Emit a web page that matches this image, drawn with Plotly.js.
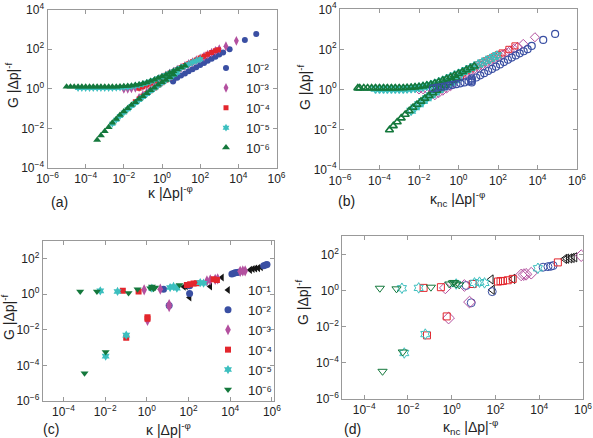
<!DOCTYPE html>
<html><head><meta charset="utf-8">
<script src="https://cdn.plot.ly/plotly-3.0.1.min.js"></script>
<style>html,body{margin:0;padding:0;background:#fff}#chart{width:593px;height:438px}</style>
</head><body><div id="chart"></div>
<script>
// ---------- Legend / series labels ----------
const seriesNamesA = ['10\u207b\u00b2','10\u207b\u00b3','10\u207b\u2074','10\u207b\u2075','10\u207b\u2076'];
const seriesNamesC = ['10\u207b\u00b9','10\u207b\u00b2','10\u207b\u00b3','10\u207b\u2074','10\u207b\u2075','10\u207b\u2076'];

// ---------- Panel (a): G|Δp|^-f vs κ|Δp|^-φ ----------
const aBlueX = [3.8, 3.8, 4, 6.3, 10, 16, 25, 40, 63, 100, 160, 250, 400, 630, 1000, 1600, 3500, 2.2e4, 8.7e4];
const aBlueY = [2.3, 2.7, 2.8, 3.6, 4.6, 5.9, 7.6, 9.6, 12.3, 15.8, 20, 25.7, 32.4, 41.7, 53.7, 67.6, 98, 290, 575];
const aMagUpX = [0.01,0.016,0.025,0.04,0.063,0.1,0.16,0.25,0.4,0.63,1,1.6,2.5,4,6.3,10,16,25,40,63,100,160,250,400,630,1000,2240,7900];
const aMagUpY = [0.98,1.0,1.04,1.1,1.2,1.36,1.6,1.95,2.4,3.0,3.75,4.7,5.9,7.4,9.2,11.5,14.3,17.8,22,27.5,34,42.5,53,66,82,101,140,262];
const aMagLoX = [0.063,0.1,0.16,0.25,0.4,0.63,1];
const aMagLoY = [0.35,0.48,0.66,0.9,1.22,1.65,2.2];
const aRedUpX = [0.063,0.1,0.16,0.25,0.4,0.63,1,1.6,2.5,4,6.3,10,16,25,40,63,100,160,250,400,630,900];
const aRedUpY = [1.05,1.25,1.55,1.95,2.45,3.05,3.85,4.8,6.0,7.5,9.4,11.8,14.8,18.5,23,28.5,35.5,44,55,68,84,92];
const aRedLoX = [0.04,0.063,0.1,0.16,0.25,0.4,0.63,1,1.6,2.5];
const aRedLoY = [0.22,0.3,0.42,0.58,0.8,1.1,1.5,2.0,2.7,3.6];
const aCyanUpX = [4e-5,6.3e-5,1e-4,1.6e-4,2.5e-4,4e-4,6.3e-4,1e-3,1.6e-3,2.5e-3,4e-3,6.3e-3,0.01,0.016,0.025,0.04,0.063,0.1,0.16,0.25,0.4,0.63,1,1.6,2.5,4,6.3,10,16,25,40,63,100];
const aCyanUpY = [1.1,1.1,1.1,1.1,1.1,1.1,1.1,1.1,1.1,1.1,1.12,1.14,1.18,1.23,1.3,1.41,1.55,1.75,2.0,2.35,2.8,3.35,4.1,4.95,6.1,7.6,9.4,11.5,14.2,17.5,21.5,26,31];
const aCyanLoX = [2.5e-3,4e-3,6.3e-3,0.01,0.016,0.025,0.04,0.063,0.1,0.16,0.25,0.4,0.63,1,1.6,2.5,4,6.3];
const aCyanLoY = [0.017,0.027,0.042,0.063,0.093,0.135,0.19,0.27,0.38,0.54,0.76,1.05,1.45,2.0,2.7,3.6,4.9,6.6];
const aGreenUpX = [1e-5,1.6e-5,2.5e-5,4e-5,6.3e-5,1e-4,1.6e-4,2.5e-4,4e-4,6.3e-4,1e-3,1.6e-3,2.5e-3,4e-3,6.3e-3,0.01,0.016,0.025,0.04,0.063,0.1,0.16,0.25,0.4,0.63,1,1.6,2.5,4,6.3,10,16];
const aGreenUpY = [1.25,1.25,1.25,1.25,1.25,1.25,1.25,1.25,1.25,1.25,1.25,1.25,1.27,1.28,1.3,1.33,1.37,1.43,1.53,1.65,1.84,2.09,2.43,2.87,3.44,4.19,5.0,6.2,7.7,9.5,11.8,14.6];
const aGreenLoX = [4e-4,6.3e-4,1e-3,1.6e-3,2.5e-3,4e-3,6.3e-3,0.01,0.016,0.025,0.04,0.063,0.1,0.16,0.25,0.4,0.63,1,1.6,2.5,4];
const aGreenLoY = [2.6e-3,4.4e-3,7.1e-3,0.0115,0.019,0.03,0.047,0.071,0.105,0.15,0.21,0.3,0.42,0.6,0.85,1.12,1.6,2.1,2.8,3.8,5.1];

// ---------- Panel (b): G|Δp|^-f vs κnc|Δp|^-φ ----------
const bBlueX = [0.05,0.079,0.126,0.2,0.32,0.5,0.79,1.26,2,3.2,4.7,4.7,4.7,4.7,7.9,12.6,20,32,50,79,126,200,316,500,794,1260,2000,3160,5100,1.95e4,7.8e4];
const bBlueY = [1.1,1.2,1.3,1.4,1.52,1.65,1.8,2.0,2.2,2.5,2.2,2.6,3.0,3.5,3.9,5.0,6.4,8.2,10.5,13.5,17.5,23,30,38.5,49.5,63,80,102,148,295,590];
const bMagUpX = [0.01,0.016,0.025,0.04,0.063,0.1,0.16,0.25,0.4,0.63,1,1.6,2.5,4,6.3,10,16,25,40,63,100,160,250,400,630,1000,1900,7400];
const bMagUpY = [0.98,1.0,1.04,1.1,1.2,1.35,1.6,1.95,2.45,3.1,3.9,4.9,6.2,7.9,10,12.7,16,20.5,26,33,42,53,67,84,106,133,186,400];
const bMagLoX = [0.063,0.1,0.16,0.25,0.4];
const bMagLoY = [0.5,0.65,0.85,1.1,1.45];
const bRedUpX = [0.1,0.16,0.25,0.4,0.63,1,1.6,2.5,4,6.3,10,16,25,40,63,100,160,355,720];
const bRedUpY = [1.5,1.95,2.5,3.2,4.1,5.2,6.6,8.4,10.6,13.4,16.9,21.3,26.8,33.5,42,53,66,100,148];
const bRedLoX = [0.05,0.079,0.126,0.2,0.32,0.5,0.79,1.26];
const bRedLoY = [0.6,0.8,1.05,1.4,1.85,2.45,3.2,4.1];
const bCyanUpX = [6.3e-5,1e-4,1.6e-4,2.5e-4,4e-4,6.3e-4,1e-3,1.6e-3,2.5e-3,4e-3,6.3e-3,0.01,0.016,0.025,0.04,0.063,0.1,0.16,0.25,0.4,0.63,1,1.6,2.5,4,6.3,10,16,25,40,63,89];
const bCyanUpY = [1.05,1.05,1.05,1.05,1.05,1.05,1.05,1.05,1.08,1.12,1.17,1.24,1.35,1.48,1.66,1.92,2.25,2.7,3.25,4.0,4.9,6.0,7.4,9.2,11.4,14.1,17.5,21.8,27,33.5,42,50];
const bCyanLoX = [4e-3,6.3e-3,0.01,0.016,0.025,0.04,0.063,0.1,0.16,0.25,0.4,0.63,1];
const bCyanLoY = [0.085,0.125,0.18,0.26,0.36,0.5,0.68,0.92,1.22,1.62,2.12,2.8,3.6];
const bGreenUpX = [8e-6,1e-5,1.6e-5,2.5e-5,4e-5,6.3e-5,1e-4,1.6e-4,2.5e-4,4e-4,6.3e-4,1e-3,1.6e-3,2.5e-3,4e-3,6.3e-3,0.01,0.016,0.025,0.04,0.063,0.1,0.16,0.25,0.4,0.63,1,1.6,2.5,4,6.3];
const bGreenUpY = [1.15,1.15,1.15,1.15,1.15,1.15,1.15,1.15,1.15,1.15,1.15,1.16,1.17,1.2,1.23,1.28,1.34,1.44,1.57,1.75,2.0,2.34,2.79,3.35,4.08,4.98,6.14,7.57,9.36,11.6,14.3];
const bGreenLoX = [3.2e-4,5e-4,7.9e-4,1.26e-3,2e-3,3.2e-3,5e-3,7.9e-3,0.0126,0.02,0.032,0.05,0.079,0.126,0.2,0.32,0.5,0.79];
const bGreenLoY = [0.0093,0.0148,0.023,0.036,0.055,0.083,0.122,0.175,0.25,0.35,0.48,0.65,0.88,1.18,1.55,2.05,2.7,3.5];

// ---------- Panel (c) ----------
const cBlackX = [60, 75, 1100, 4000, 9e4, 1.2e5, 1.6e5, 2.2e5, 3e5, 112];
const cBlackY = [2.6, 2.8, 2.7, 8.5, 23, 25.5, 27.5, 29, 32, 0.65];
const cBlueX = [6.3, 112, 1.2e4, 1.5e4, 1.74e4, 2.1e4, 2.5e4, 4e5, 5e5, 5.8e5, 11.7, 112];
const cBlueY = [1.9, 3.0, 13.5, 14.7, 16, 16.6, 17, 39, 43, 46, 0.23, 1.09];
const cMagX = [0.74, 4.4, 760, 1100, 1900, 2500, 3e4, 4e4, 5.2e4, 1.07, 11.7, 11.7];
const cMagY = [1.74, 1.9, 5.5, 6.3, 6.8, 7.2, 19, 20, 20, 0.033, 0.26, 0.2];
const cRedX = [0.07, 0.4, 83, 120, 174, 250, 1580, 2290, 0.102, 1.07, 1.07];
const cRedY = [1.53, 1.41, 3.3, 3.6, 3.9, 4.1, 6.8, 6.3, 3.6e-3, 0.05, 0.041];
const cCyanX = [5.8e-3, 0.039, 1.74, 13, 19, 27.5, 363, 525, 0.0105, 0.102];
const cCyanY = [1.53, 1.41, 2.15, 2.35, 2.7, 2.15, 4.45, 4.1, 3.3e-4, 5e-3];
const cGreenX = [6.3e-4, 4e-3, 0.132, 0.355, 1.45, 1.74, 2.1, 2.5, 37, 1.02e-3, 0.0105];
const cGreenY = [1.41, 1.41, 1.14, 1.9, 2.15, 2.7, 2.0, 2.35, 3.3, 3.6e-5, 5.7e-4];

// ---------- Panel (d) ----------
const dBlackX = [63, 615, 1.45e5, 1.8e5, 2.5e5, 3.2e5, 4.2e5, 71];
const dBlackY = [4.1, 4.4, 56, 58, 60, 64, 69, 1.1];
const dBlueX = [4.6, 1.5e4, 2.5e4, 3.4e4, 4.3e4, 7.8, 71];
const dBlueY = [1.9, 19.5, 21, 22, 24, 0.21, 0.87];
const dMagX = [0.51, 3.8, 1.5e3, 2e3, 2.5e3, 4.3e3, 8.3e5, 0.72, 6.5];
const dMagY = [1.4, 1.9, 7.3, 7.6, 7.9, 9.1, 85, 0.03, 0.23];
const dRedX = [0.052, 0.32, 9.1, 130, 170, 220, 365, 615, 7.1e4, 0.074, 0.59];
const dRedY = [1.4, 1.53, 2.3, 3.15, 3.3, 3.4, 3.7, 4.4, 36, 3.3e-3, 0.037];
const dCyanX = [5.3e-3, 0.031, 1.6, 11, 18.6, 31.6, 8.7e3, 6.8e-3, 0.062];
const dCyanY = [1.34, 1.4, 2.3, 2.65, 2.9, 2.65, 17, 3.5e-4, 3.9e-3];
const dGreenX = [5.2e-4, 3e-3, 0.112, 0.78, 1.12, 1.3, 1.6, 2.2, 6.9e-4, 5.8e-3];
const dGreenY = [1.34, 1.24, 1.53, 2.3, 2.65, 2.8, 2.3, 2.05, 3.4e-5, 4e-4];

// ---------- Tick labels ----------
const tickValsAB = [1e-6,1e-4,1e-2,1,1e2,1e4,1e6];
const tickTextAB = ['10<sup>\u22126</sup>','10<sup>\u22124</sup>','10<sup>\u22122</sup>','10<sup>0</sup>','10<sup>2</sup>','10<sup>4</sup>','10<sup>6</sup>'];
const yTickValsAB = [1e-4,1e-2,1,1e2,1e4];
const yTickTextAB = ['10<sup>\u22124</sup>','10<sup>\u22122</sup>','10<sup>0</sup>','10<sup>2</sup>','10<sup>4</sup>'];
const xTickValsCD = [1e-4,1e-2,1,1e2,1e4,1e6];
const xTickTextCD = ['10<sup>\u22124</sup>','10<sup>\u22122</sup>','10<sup>0</sup>','10<sup>2</sup>','10<sup>4</sup>','10<sup>6</sup>'];
const yTickValsCD = [1e-6,1e-4,1e-2,1,1e2];
const yTickTextCD = ['10<sup>\u22126</sup>','10<sup>\u22124</sup>','10<sup>\u22122</sup>','10<sup>0</sup>','10<sup>2</sup>'];

// ---------- Styling ----------
const COL = {black:'#151515', blue:'#3a4fa3', mag:'#b3509f', red:'#e3262d', cyan:'#3cbfbf', green:'#14783c'};
const W = 593, H = 438;
const px = v => v / W, py = v => 1 - v / H;

function sc(x, y, opts) {
  return Object.assign({type:'scatter', mode:'markers', x:x, y:y, hoverinfo:'skip', cliponaxis:true}, opts);
}
function mk(color, symbol, size, lw) {
  return {color:color, symbol:symbol, size:size, line:{width:symbol.indexOf('open')>=0?(lw||1):0, color:color}};
}

const traces = [
  // (a)
  sc(aBlueX, aBlueY, {xaxis:'x', yaxis:'y', name:seriesNamesA[0], legend:'legend', marker:mk(COL.blue,'circle',6)}),
  sc(aMagUpX.concat(aMagLoX), aMagUpY.concat(aMagLoY), {xaxis:'x', yaxis:'y', name:seriesNamesA[1], legend:'legend', marker:mk(COL.mag,'diamond-tall',7)}),
  sc(aRedUpX.concat(aRedLoX), aRedUpY.concat(aRedLoY), {xaxis:'x', yaxis:'y', name:seriesNamesA[2], legend:'legend', marker:mk(COL.red,'square',5)}),
  sc(aCyanUpX.concat(aCyanLoX), aCyanUpY.concat(aCyanLoY), {xaxis:'x', yaxis:'y', name:seriesNamesA[3], legend:'legend', marker:mk(COL.cyan,'hexagram',6)}),
  sc(aGreenUpX.concat(aGreenLoX), aGreenUpY.concat(aGreenLoY), {xaxis:'x', yaxis:'y', name:seriesNamesA[4], legend:'legend', marker:mk(COL.green,'triangle-up',7)}),
  // (b)
  sc(bMagUpX.concat(bMagLoX), bMagUpY.concat(bMagLoY), {xaxis:'x2', yaxis:'y2', showlegend:false, marker:mk(COL.mag,'diamond-open',7)}),
  sc(bRedUpX.concat(bRedLoX), bRedUpY.concat(bRedLoY), {xaxis:'x2', yaxis:'y2', showlegend:false, marker:mk(COL.red,'square-open',6)}),
  sc(bCyanUpX.concat(bCyanLoX), bCyanUpY.concat(bCyanLoY), {xaxis:'x2', yaxis:'y2', showlegend:false, marker:mk(COL.cyan,'hexagram-open',7,1.3)}),
  sc(bGreenUpX.concat(bGreenLoX), bGreenUpY.concat(bGreenLoY), {xaxis:'x2', yaxis:'y2', showlegend:false, marker:mk(COL.green,'triangle-up-open',7,1.6)}),
  sc(bBlueX, bBlueY, {xaxis:'x2', yaxis:'y2', showlegend:false, marker:mk(COL.blue,'circle-open',7,1.2)}),
  // (c)
  sc(cBlackX, cBlackY, {xaxis:'x3', yaxis:'y3', name:seriesNamesC[0], legend:'legend2', marker:mk(COL.black,'triangle-left',7)}),
  sc(cBlueX, cBlueY, {xaxis:'x3', yaxis:'y3', name:seriesNamesC[1], legend:'legend2', marker:mk(COL.blue,'circle',7)}),
  sc(cMagX, cMagY, {xaxis:'x3', yaxis:'y3', name:seriesNamesC[2], legend:'legend2', marker:mk(COL.mag,'diamond-tall',8)}),
  sc(cRedX, cRedY, {xaxis:'x3', yaxis:'y3', name:seriesNamesC[3], legend:'legend2', marker:mk(COL.red,'square',6)}),
  sc(cCyanX, cCyanY, {xaxis:'x3', yaxis:'y3', name:seriesNamesC[4], legend:'legend2', marker:mk(COL.cyan,'hexagram',7)}),
  sc(cGreenX, cGreenY, {xaxis:'x3', yaxis:'y3', name:seriesNamesC[5], legend:'legend2', marker:mk(COL.green,'triangle-down',7)}),
  // (d)
  sc(dBlackX, dBlackY, {xaxis:'x4', yaxis:'y4', showlegend:false, marker:mk(COL.black,'triangle-left-open',8)}),
  sc(dBlueX, dBlueY, {xaxis:'x4', yaxis:'y4', showlegend:false, marker:mk(COL.blue,'circle-open',8)}),
  sc(dMagX, dMagY, {xaxis:'x4', yaxis:'y4', showlegend:false, marker:mk(COL.mag,'diamond-open',9)}),
  sc(dRedX, dRedY, {xaxis:'x4', yaxis:'y4', showlegend:false, marker:mk(COL.red,'square-open',7)}),
  sc(dCyanX, dCyanY, {xaxis:'x4', yaxis:'y4', showlegend:false, marker:mk(COL.cyan,'hexagram-open',8)}),
  sc(dGreenX, dGreenY, {xaxis:'x4', yaxis:'y4', showlegend:false, marker:mk(COL.green,'triangle-down-open',8)})
];

const FONT = 'Liberation Sans, Arial, Helvetica, sans-serif';
function ax(domain, range, tv, tt, anchor) {
  return {type:'log', domain:domain, range:range, anchor:anchor, tickmode:'array', tickvals:tv, ticktext:tt,
    ticks:'inside', ticklen:4, tickwidth:1, tickcolor:'#999', showline:true, linecolor:'#999', linewidth:1,
    mirror:'ticks', showgrid:false, zeroline:false, tickfont:{size:12, color:'#222', family:FONT}, fixedrange:true};
}

const layout = {
  width:W, height:H, margin:{l:0,r:0,t:0,b:0}, paper_bgcolor:'#fff', plot_bgcolor:'#fff',
  font:{family:FONT, size:12, color:'#222'},
  xaxis:  ax([px(47.5), px(276.5)], [-6,6], tickValsAB, tickTextAB, 'y'),
  yaxis:  ax([py(168), py(9.5)], [-4,4], yTickValsAB, yTickTextAB, 'x'),
  xaxis2: ax([px(340), px(577)], [-6,6], tickValsAB, tickTextAB, 'y2'),
  yaxis2: ax([py(169.3), py(9.3)], [-4,4], yTickValsAB, yTickTextAB, 'x2'),
  xaxis3: ax([px(42.7), px(274)], [-5,6.1], xTickValsCD, xTickTextCD, 'y3'),
  yaxis3: ax([py(401), py(240.7)], [-6,3], yTickValsCD, yTickTextCD, 'x3'),
  xaxis4: ax([px(342.3), px(583)], [-5,6], xTickValsCD, xTickTextCD, 'y4'),
  yaxis4: ax([py(399), py(236.3)], [-6,3], yTickValsCD, yTickTextCD, 'x4'),
  legend: {x:px(206), y:py(53), xanchor:'left', yanchor:'top', bgcolor:'rgba(0,0,0,0)', borderwidth:0,
    font:{size:13, family:FONT, color:'#222'}, itemwidth:30, tracegroupgap:0},
  legend2: {x:px(208), y:py(275), xanchor:'left', yanchor:'top', bgcolor:'rgba(0,0,0,0)', borderwidth:0,
    font:{size:13, family:FONT, color:'#222'}, itemwidth:30, tracegroupgap:0},
  showlegend:true,
  annotations: [
    {text:'G |\u0394p|<sup>-f</sup>', x:px(12), y:py(86), textangle:-90},
    {text:'\u03ba |\u0394p|<sup>-\u03c6</sup>', x:px(170), y:py(192)},
    {text:'(a)', x:px(59), y:py(202)},
    {text:'G |\u0394p|<sup>-f</sup>', x:px(304), y:py(88), textangle:-90},
    {text:'\u03ba<sub>nc</sub> |\u0394p|<sup>-\u03c6</sup>', x:px(457), y:py(199)},
    {text:'(b)', x:px(347), y:py(201)},
    {text:'G |\u0394p|<sup>-f</sup>', x:px(8), y:py(318), textangle:-90},
    {text:'\u03ba |\u0394p|<sup>-\u03c6</sup>', x:px(168), y:py(429)},
    {text:'(c)', x:px(51), y:py(429)},
    {text:'G |\u0394p|<sup>-f</sup>', x:px(302), y:py(302), textangle:-90},
    {text:'\u03ba<sub>nc</sub> |\u0394p|<sup>-\u03c6</sup>', x:px(471), y:py(427)},
    {text:'(d)', x:px(352), y:py(429)}
  ].map(a => Object.assign({xref:'paper', yref:'paper', showarrow:false, xanchor:'center', yanchor:'middle',
      font:{size:14, family:FONT, color:'#222'}}, a))
};

Plotly.newPlot('chart', traces, layout, {displayModeBar:false, staticPlot:true});
</script></body></html>
